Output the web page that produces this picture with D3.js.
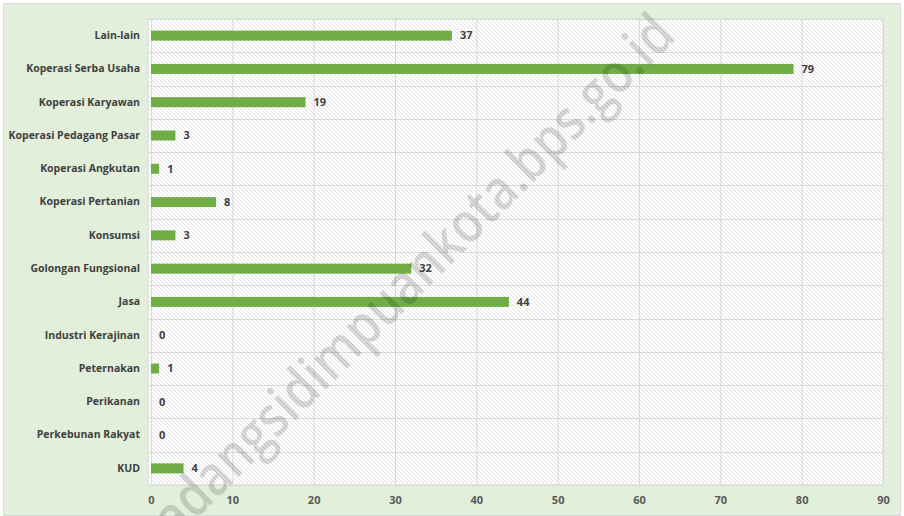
<!DOCTYPE html>
<html><head><meta charset="utf-8">
<script src="https://cdn.jsdelivr.net/npm/d3@7"></script>
<style>
body{margin:0;padding:0;background:#fff;}
svg{display:block;font-family:"Open Sans","Noto Sans",sans-serif;}
</style></head>
<body>
<svg id="chart" width="904" height="516"></svg>
<script>
const categories = ["Lain-lain","Koperasi Serba Usaha","Koperasi Karyawan","Koperasi Pedagang Pasar","Koperasi Angkutan","Koperasi Pertanian","Konsumsi","Golongan Fungsional","Jasa","Industri Kerajinan","Peternakan","Perikanan","Perkebunan Rakyat","KUD"];
const values = [37,79,19,3,1,8,3,32,44,0,1,0,0,4];
const xTicks = [0,10,20,30,40,50,60,70,80,90];
const watermark = "padangsidimpuankota.bps.go.id";

const svg = d3.select("#chart");
const W = 904, H = 516;
const m = {left:151, right:883, top:19, bottom:485};

const defs = svg.append("defs");
const pat = defs.append("pattern").attr("id","hatch").attr("patternUnits","userSpaceOnUse")
  .attr("width",4).attr("height",4);
pat.append("rect").attr("width",4).attr("height",4).attr("fill","#fff");
pat.append("path").attr("d","M-1,-1L5,5M-1,3L1,5M3,-1L5,1").attr("stroke","#e0e0e0").attr("stroke-width",0.9);

svg.append("rect").attr("x",3.5).attr("y",3.5).attr("width",W-7).attr("height",H-4)
  .attr("fill","#e2efda").attr("stroke","#d9d9d9");

const x = d3.scaleLinear().domain([0,90]).range([m.left,m.right]);
const y = d3.scaleBand().domain(categories).range([m.top,m.bottom]);

svg.append("rect").attr("x",m.left-3).attr("y",m.top).attr("width",m.right-m.left+3).attr("height",m.bottom-m.top)
  .attr("fill","url(#hatch)").attr("stroke","#d9d9d9");

// gridlines
const g = svg.append("g");
g.selectAll("line.v").data(xTicks).join("line")
  .attr("x1",d=>x(d)+0.5).attr("x2",d=>x(d)+0.5).attr("y1",m.top).attr("y2",m.bottom)
  .attr("stroke","#d9d9d9").attr("stroke-width",1);
g.selectAll("line.h").data(categories.concat(["__end"])).join("line")
  .attr("x1",m.left-3).attr("x2",m.right)
  .attr("y1",(d,i)=>Math.round(m.top+i*y.step())+0.5).attr("y2",(d,i)=>Math.round(m.top+i*y.step())+0.5)
  .attr("stroke","#d9d9d9").attr("stroke-width",1);

// x axis
const xAxis = svg.append("g").attr("transform",`translate(0,${m.bottom})`)
  .call(d3.axisBottom(x).tickValues(xTicks).tickSize(0).tickPadding(11));
xAxis.select(".domain").remove();
xAxis.selectAll("text").attr("font-size",11).attr("font-weight","bold").attr("fill","#595959")
  .attr("font-family","'Open Sans',sans-serif");

// y axis
const yAxis = svg.append("g").attr("transform",`translate(${m.left},0)`)
  .call(d3.axisLeft(y).tickSize(0).tickPadding(11));
yAxis.select(".domain").remove();
yAxis.selectAll("text").attr("font-size",10.5).attr("font-weight","bold").attr("fill","#404040")
  .attr("font-family","'Open Sans',sans-serif");

// bars
const bh = 10;
svg.append("g").selectAll("rect").data(values).join("rect")
  .attr("x",x(0)).attr("y",(d,i)=>y(categories[i])+y.bandwidth()/2-bh/2)
  .attr("width",d=>x(d)-x(0)).attr("height",bh).attr("fill","#70ad47");

// labels
svg.append("g").selectAll("text").data(values).join("text")
  .attr("x",d=>x(d)+8).attr("y",(d,i)=>y(categories[i])+y.bandwidth()/2)
  .attr("dy","0.35em").attr("font-size",11).attr("font-weight","bold").attr("fill","#404040")
  .text(d=>d);

// watermark
svg.append("text").attr("transform","translate(664,24) rotate(-45)")
  .attr("text-anchor","end").attr("font-size",56).attr("font-weight",600).attr("fill","#000").attr("fill-opacity",0.15)
  .attr("font-family","'Open Sans',sans-serif").attr("dy","0.35em")
  .attr("textLength",740).attr("lengthAdjust","spacingAndGlyphs")
  .text(watermark);
</script>
</body></html>
